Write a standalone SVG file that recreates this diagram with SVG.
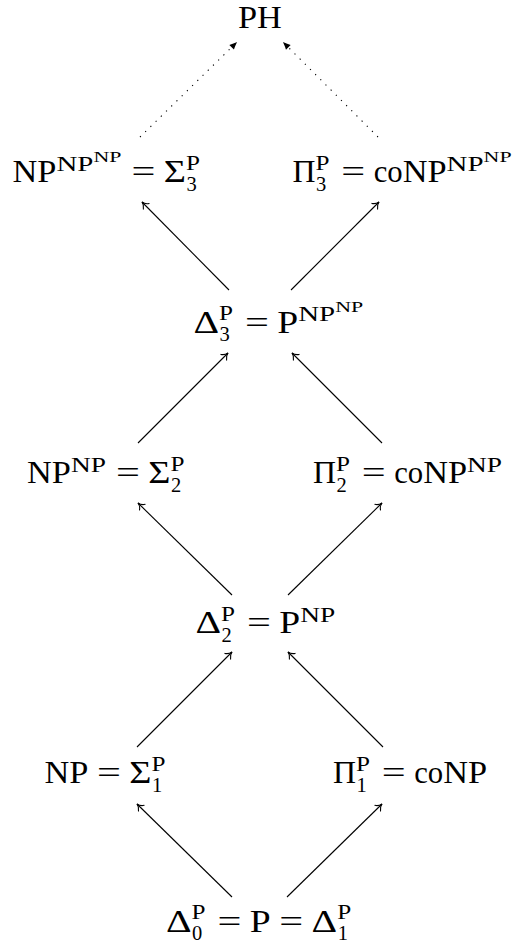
<svg xmlns="http://www.w3.org/2000/svg" width="524" height="944" viewBox="0 0 524 944">
<style>
text { font-family: "Liberation Serif", "DejaVu Serif", serif; fill: #000; font-weight: normal; }
.m { font-size: 31px; }
.s { font-size: 20.5px; }
.ss { font-size: 15px; }
.c { fill: none; stroke: #000; stroke-width: 1.1; }
.solid { marker-end: url(#to); }
.dot { stroke-dasharray: 1.2 6.1; marker-end: url(#latex); }
</style>
<defs>
<marker id="to" viewBox="-8 -5 10 10" refX="0" refY="0" markerWidth="10" markerHeight="10" markerUnits="userSpaceOnUse" orient="auto">
<path d="M -6,-4 C -4.5,-1.6 -1.6,-0.3 0,0 C -1.6,0.3 -4.5,1.6 -6,4" fill="none" stroke="#000" stroke-width="1.1" stroke-linecap="round"/>
</marker>
<marker id="latex" viewBox="-9 -5 10 10" refX="0" refY="0" markerWidth="10" markerHeight="10" markerUnits="userSpaceOnUse" orient="auto">
<path d="M 0,0 C -2,0.8 -5,2 -7.5,3.3 L -7.5,-3.3 C -5,-2 -2,-0.8 0,0 Z" fill="#000"/>
</marker>
</defs>

<g id="connectors">
<line class="c solid" x1="232" y1="897" x2="137" y2="804"/>
<line class="c solid" x1="287" y1="897" x2="382" y2="804"/>
<line class="c solid" x1="137" y1="747" x2="232" y2="652"/>
<line class="c solid" x1="383" y1="747" x2="288" y2="652"/>
<line class="c solid" x1="232" y1="595" x2="138" y2="503"/>
<line class="c solid" x1="288" y1="595" x2="382" y2="503"/>
<line class="c solid" x1="138" y1="443" x2="228" y2="353"/>
<line class="c solid" x1="382" y1="443" x2="292" y2="353"/>
<line class="c solid" x1="229" y1="290" x2="142" y2="202"/>
<line class="c solid" x1="291" y1="290" x2="379" y2="202"/>
<line class="c dot" x1="140" y1="137" x2="237" y2="42"/>
<line class="c dot" x1="378" y1="137" x2="283" y2="42"/>
</g>

<g id="PH">
<text class="m" x="238" y="28" textLength="43.9" lengthAdjust="spacingAndGlyphs">PH</text>
</g>

<g id="Sigma3">
<text class="m" x="12.5" y="182" textLength="43.9" lengthAdjust="spacingAndGlyphs">NP</text>
<text class="s" x="56.4" y="170.5" textLength="37" lengthAdjust="spacingAndGlyphs">NP</text>
<text class="ss" x="93.4" y="161.5" textLength="28" lengthAdjust="spacingAndGlyphs">NP</text>
<text class="m" x="131.4" y="182" textLength="23.9" lengthAdjust="spacingAndGlyphs">=</text>
<text class="m" x="163.8" y="182" textLength="22.2" lengthAdjust="spacingAndGlyphs">Σ</text>
<text class="s" x="186" y="169.5" textLength="14" lengthAdjust="spacingAndGlyphs">P</text>
<text class="s" x="186.5" y="190.5">3</text>
</g>

<g id="Pi3">
<text class="m" x="292.5" y="182" textLength="23" lengthAdjust="spacingAndGlyphs">Π</text>
<text class="s" x="315.5" y="169.5" textLength="14" lengthAdjust="spacingAndGlyphs">P</text>
<text class="s" x="316" y="190.5">3</text>
<text class="m" x="341.3" y="182" textLength="23.9" lengthAdjust="spacingAndGlyphs">=</text>
<text class="m" x="373.7" y="182" textLength="29" lengthAdjust="spacingAndGlyphs">co</text>
<text class="m" x="402.7" y="182" textLength="43.9" lengthAdjust="spacingAndGlyphs">NP</text>
<text class="s" x="446.6" y="170.5" textLength="37" lengthAdjust="spacingAndGlyphs">NP</text>
<text class="ss" x="483.6" y="161.5" textLength="28" lengthAdjust="spacingAndGlyphs">NP</text>
</g>

<g id="Delta3">
<text class="m" x="193.5" y="332.5" textLength="25.6" lengthAdjust="spacingAndGlyphs">Δ</text>
<text class="s" x="219.1" y="320" textLength="14" lengthAdjust="spacingAndGlyphs">P</text>
<text class="s" x="219.6" y="341">3</text>
<text class="m" x="244.9" y="332.5" textLength="23.9" lengthAdjust="spacingAndGlyphs">=</text>
<text class="m" x="277.3" y="332.5" textLength="20.9" lengthAdjust="spacingAndGlyphs">P</text>
<text class="s" x="298.2" y="321" textLength="37" lengthAdjust="spacingAndGlyphs">NP</text>
<text class="ss" x="335.2" y="312" textLength="28" lengthAdjust="spacingAndGlyphs">NP</text>
</g>

<g id="Sigma2">
<text class="m" x="27" y="483" textLength="43.9" lengthAdjust="spacingAndGlyphs">NP</text>
<text class="s" x="70.9" y="471.5" textLength="35" lengthAdjust="spacingAndGlyphs">NP</text>
<text class="m" x="115.9" y="483" textLength="23.9" lengthAdjust="spacingAndGlyphs">=</text>
<text class="m" x="148.3" y="483" textLength="22.2" lengthAdjust="spacingAndGlyphs">Σ</text>
<text class="s" x="170.5" y="470.5" textLength="14" lengthAdjust="spacingAndGlyphs">P</text>
<text class="s" x="171" y="491.5">2</text>
</g>

<g id="Pi2">
<text class="m" x="313" y="483" textLength="23" lengthAdjust="spacingAndGlyphs">Π</text>
<text class="s" x="336" y="470.5" textLength="14" lengthAdjust="spacingAndGlyphs">P</text>
<text class="s" x="336.5" y="491.5">2</text>
<text class="m" x="361.8" y="483" textLength="23.9" lengthAdjust="spacingAndGlyphs">=</text>
<text class="m" x="394.2" y="483" textLength="29" lengthAdjust="spacingAndGlyphs">co</text>
<text class="m" x="423.2" y="483" textLength="43.9" lengthAdjust="spacingAndGlyphs">NP</text>
<text class="s" x="467.1" y="471.5" textLength="35" lengthAdjust="spacingAndGlyphs">NP</text>
</g>

<g id="Delta2">
<text class="m" x="195.5" y="633" textLength="25.6" lengthAdjust="spacingAndGlyphs">Δ</text>
<text class="s" x="221.1" y="620.5" textLength="14" lengthAdjust="spacingAndGlyphs">P</text>
<text class="s" x="221.6" y="641.5">2</text>
<text class="m" x="246.9" y="633" textLength="23.9" lengthAdjust="spacingAndGlyphs">=</text>
<text class="m" x="279.3" y="633" textLength="20.9" lengthAdjust="spacingAndGlyphs">P</text>
<text class="s" x="300.2" y="621.5" textLength="35" lengthAdjust="spacingAndGlyphs">NP</text>
</g>

<g id="Sigma1">
<text class="m" x="44.5" y="783" textLength="43.9" lengthAdjust="spacingAndGlyphs">NP</text>
<text class="m" x="96.9" y="783" textLength="23.9" lengthAdjust="spacingAndGlyphs">=</text>
<text class="m" x="129.3" y="783" textLength="22.2" lengthAdjust="spacingAndGlyphs">Σ</text>
<text class="s" x="151.5" y="770.5" textLength="14" lengthAdjust="spacingAndGlyphs">P</text>
<text class="s" x="152" y="791.5">1</text>
</g>

<g id="Pi1">
<text class="m" x="333" y="783" textLength="23" lengthAdjust="spacingAndGlyphs">Π</text>
<text class="s" x="356" y="770.5" textLength="14" lengthAdjust="spacingAndGlyphs">P</text>
<text class="s" x="356.5" y="791.5">1</text>
<text class="m" x="381.8" y="783" textLength="23.9" lengthAdjust="spacingAndGlyphs">=</text>
<text class="m" x="414.2" y="783" textLength="29" lengthAdjust="spacingAndGlyphs">co</text>
<text class="m" x="443.2" y="783" textLength="43.9" lengthAdjust="spacingAndGlyphs">NP</text>
</g>

<g id="Delta0">
<text class="m" x="166" y="931.5" textLength="25.6" lengthAdjust="spacingAndGlyphs">Δ</text>
<text class="s" x="191.6" y="918.5" textLength="14" lengthAdjust="spacingAndGlyphs">P</text>
<text class="s" x="192.1" y="939.5">0</text>
<text class="m" x="217.4" y="931.5" textLength="23.9" lengthAdjust="spacingAndGlyphs">=</text>
<text class="m" x="249.8" y="931.5" textLength="20.9" lengthAdjust="spacingAndGlyphs">P</text>
<text class="m" x="279.2" y="931.5" textLength="23.9" lengthAdjust="spacingAndGlyphs">=</text>
<text class="m" x="311.6" y="931.5" textLength="25.6" lengthAdjust="spacingAndGlyphs">Δ</text>
<text class="s" x="337.2" y="918.5" textLength="14" lengthAdjust="spacingAndGlyphs">P</text>
<text class="s" x="337.7" y="939.5">1</text>
</g>
</svg>
